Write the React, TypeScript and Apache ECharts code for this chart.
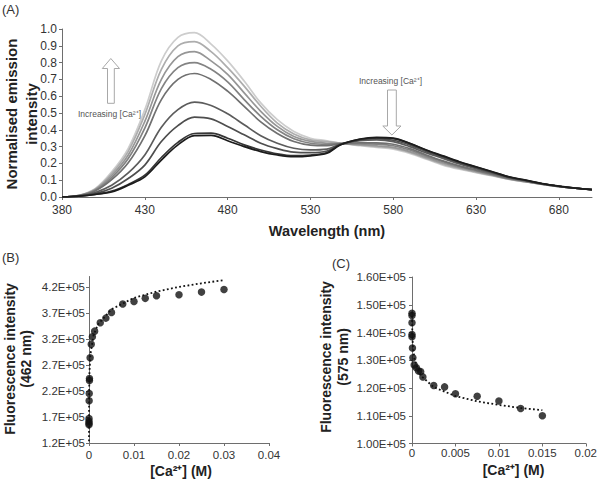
import React, { useEffect, useRef } from "react";
import * as echarts from "echarts";

// ---------- Panel A : emission spectra ----------
const wavelengths = [380, 390, 400, 410, 420, 430, 440, 450, 460, 470, 480, 490, 500, 510, 520, 530, 540, 548, 560, 570, 580, 590, 600, 610, 620, 630, 640, 650, 660, 670, 680, 690, 700];
const spec1 = [0, 0.005, 0.015, 0.03, 0.07, 0.12, 0.22, 0.31, 0.365, 0.367, 0.335, 0.3, 0.27, 0.25, 0.24, 0.245, 0.26, 0.31, 0.345, 0.355, 0.35, 0.32, 0.28, 0.245, 0.21, 0.18, 0.15, 0.12, 0.1, 0.08, 0.065, 0.053, 0.044];
const spec2 = [0, 0.005, 0.016, 0.035, 0.075, 0.13, 0.235, 0.325, 0.378, 0.38, 0.35, 0.31, 0.28, 0.257, 0.246, 0.25, 0.265, 0.312, 0.343, 0.352, 0.347, 0.318, 0.278, 0.243, 0.208, 0.178, 0.148, 0.119, 0.099, 0.079, 0.064, 0.052, 0.044];
const spec3 = [0, 0.006, 0.02, 0.052, 0.11, 0.19, 0.33, 0.425, 0.475, 0.465, 0.42, 0.37, 0.32, 0.288, 0.267, 0.264, 0.274, 0.312, 0.34, 0.348, 0.338, 0.31, 0.27, 0.237, 0.203, 0.174, 0.146, 0.117, 0.098, 0.079, 0.064, 0.053, 0.044];
const spec4 = [0, 0.006, 0.027, 0.07, 0.143, 0.25, 0.415, 0.52, 0.565, 0.545, 0.495, 0.43, 0.365, 0.32, 0.29, 0.28, 0.285, 0.315, 0.335, 0.34, 0.33, 0.3, 0.262, 0.23, 0.197, 0.169, 0.142, 0.115, 0.097, 0.078, 0.064, 0.053, 0.044];
const spec5 = [0, 0.007, 0.036, 0.103, 0.204, 0.364, 0.58, 0.7, 0.735, 0.7, 0.63, 0.54, 0.447, 0.378, 0.33, 0.309, 0.306, 0.318, 0.323, 0.322, 0.314, 0.288, 0.25, 0.215, 0.185, 0.16, 0.136, 0.11, 0.094, 0.077, 0.063, 0.052, 0.043];
const spec6 = [0, 0.008, 0.04, 0.116, 0.229, 0.41, 0.645, 0.77, 0.8, 0.76, 0.685, 0.58, 0.48, 0.4, 0.347, 0.32, 0.314, 0.318, 0.318, 0.315, 0.305, 0.28, 0.243, 0.21, 0.18, 0.157, 0.133, 0.109, 0.093, 0.077, 0.063, 0.052, 0.043];
const spec7 = [0, 0.009, 0.044, 0.128, 0.25, 0.45, 0.7, 0.835, 0.865, 0.81, 0.73, 0.62, 0.51, 0.42, 0.36, 0.331, 0.32, 0.318, 0.312, 0.305, 0.295, 0.27, 0.236, 0.202, 0.174, 0.152, 0.13, 0.107, 0.091, 0.076, 0.062, 0.052, 0.043];
const spec8 = [0, 0.009, 0.047, 0.14, 0.272, 0.49, 0.76, 0.9, 0.925, 0.865, 0.77, 0.66, 0.54, 0.44, 0.375, 0.34, 0.33, 0.32, 0.308, 0.3, 0.29, 0.265, 0.23, 0.196, 0.17, 0.148, 0.128, 0.106, 0.09, 0.075, 0.062, 0.052, 0.043];
const spec9 = [0, 0.01, 0.05, 0.15, 0.29, 0.52, 0.81, 0.95, 0.978, 0.91, 0.81, 0.69, 0.56, 0.46, 0.39, 0.35, 0.335, 0.32, 0.305, 0.295, 0.285, 0.26, 0.225, 0.19, 0.165, 0.145, 0.125, 0.105, 0.09, 0.075, 0.062, 0.052, 0.043];
// drawn from lightest (highest [Ca2+]) to darkest
const spectra = [spec9, spec8, spec7, spec6, spec5, spec4, spec3, spec2, spec1];
const spectrumColors = ["#cdcdcd", "#adadad", "#969696", "#838383", "#707070", "#5c5c5c", "#4e4e4e", "#363636", "#1c1c1c"];
const xTicksA = [380, 430, 480, 530, 580, 630, 680];
const yTicksA = [0, 0.1, 0.2, 0.3, 0.4, 0.5, 0.6, 0.7, 0.8, 0.9, 1.0];

// ---------- Panel B : 462 nm ----------
const concB = [0, 0, 0, 0, 0.00003, 0.00005, 0.0001, 0.0001, 0.00025, 0.0005, 0.00075, 0.00125, 0.0025, 0.00375, 0.005, 0.0075, 0.01, 0.0125, 0.015, 0.02, 0.025, 0.03];
const intensityB = [155000, 158000, 162000, 167000, 201000, 215000, 240000, 244000, 284000, 310000, 324000, 335000, 351000, 360000, 371000, 387000, 392000, 398000, 403000, 405000, 410000, 415000];
const trendConcB = [0.0000015, 0.000005, 0.00001, 0.00003, 0.0001, 0.0003, 0.001, 0.002, 0.005, 0.01, 0.015, 0.02, 0.025, 0.03];
const trendB = [123500, 161000, 183000, 217000, 255000, 289000, 327000, 348000, 377000, 399000, 411000, 420000, 427000, 433000];
const xTicksB = [0, 0.01, 0.02, 0.03, 0.04];
const yTicksB = [120000, 170000, 220000, 270000, 320000, 370000, 420000];

// ---------- Panel C : 575 nm ----------
const concC = [0, 0, 0, 0, 0, 0.00005, 0.0001, 0.00025, 0.0005, 0.00075, 0.001, 0.00125, 0.0025, 0.00375, 0.005, 0.0075, 0.01, 0.0125, 0.015];
const intensityC = [146900, 146100, 143500, 139300, 138500, 134400, 130900, 128300, 127300, 126100, 125900, 124000, 120900, 120400, 117900, 117000, 115300, 112600, 110000];
const trendConcC = [0.000007, 0.00002, 0.00005, 0.0001, 0.0003, 0.001, 0.0025, 0.005, 0.0075, 0.01, 0.0125, 0.015];
const trendC = [147500, 142700, 138500, 135200, 130100, 124500, 120300, 117100, 115200, 113900, 112800, 112000];
const xTicksC = [0, 0.005, 0.01, 0.015, 0.02];
const yTicksC = [100000, 110000, 120000, 130000, 140000, 150000, 160000];

const FONT = "'Liberation Sans', Arial, Helvetica, sans-serif";
const AXIS_COLOR = "#6e6e6e";
const LABEL_COLOR = "#333";

function valueAxis(gridIndex: number, min: number, max: number, ticks: number[], fmt: (v: number) => string, fontSize: number, margin: number) {
  return {
    type: "value",
    gridIndex,
    min,
    max,
    axisLine: { show: true, onZero: false, lineStyle: { color: AXIS_COLOR, width: 1 } },
    axisTick: { show: true, length: 3, inside: false, lineStyle: { color: AXIS_COLOR }, customValues: ticks },
    axisLabel: { customValues: ticks, formatter: fmt, color: LABEL_COLOR, fontSize, fontFamily: FONT, margin },
    splitLine: { show: false },
  };
}

function txt(x: number, y: number, text: string, fontSize: number, fontWeight = "normal", align = "left", rotation = 0, lineHeight?: number, fill = "#222") {
  return {
    type: "text",
    x,
    y,
    rotation,
    silent: true,
    style: { text, fill, fontSize, fontWeight, fontFamily: FONT, align, verticalAlign: "middle", lineHeight },
  };
}

export default function App() {
  const ref = useRef<HTMLDivElement>(null);

  useEffect(() => {
    if (!ref.current) return;
    const chart = echarts.init(ref.current, undefined, { renderer: "svg" });

    const spectraSeries = spectra.map((s, k) => ({
      type: "line",
      xAxisIndex: 0,
      yAxisIndex: 0,
      data: wavelengths.map((w, i) => [w, s[i]]),
      showSymbol: false,
      smooth: 0.35,
      silent: true,
      lineStyle: { color: spectrumColors[k], width: 1.7 },
    }));

    const dotted = { color: "#111", width: 1.8, type: [1.8, 2.4] };

    const option = {
      animation: false,
      backgroundColor: "#fff",
      grid: [
        { left: 62, top: 29, width: 530, height: 168 },
        { left: 89, top: 276.5, width: 180, height: 166.5 },
        { left: 412, top: 277, width: 175, height: 166.5 },
      ],
      xAxis: [
        valueAxis(0, 380, 700, xTicksA, (v) => String(v), 12, 7),
        valueAxis(1, 0, 0.04, xTicksB, (v) => String(v), 11.5, 6),
        valueAxis(2, 0, 0.02, xTicksC, (v) => String(v), 11.5, 3),
      ],
      yAxis: [
        valueAxis(0, 0, 1, yTicksA, (v) => v.toFixed(1), 12, 5),
        valueAxis(1, 120000, 440000, yTicksB, (v) => (v / 1e5).toFixed(1) + "E+05", 11.5, 4),
        valueAxis(2, 100000, 160000, yTicksC, (v) => (v / 1e5).toFixed(2) + "E+05", 11.5, 6),
      ],
      series: [
        ...spectraSeries,
        {
          type: "line",
          xAxisIndex: 1,
          yAxisIndex: 1,
          data: trendConcB.map((c, i) => [c, trendB[i]]),
          showSymbol: false,
          silent: true,
          lineStyle: dotted,
          z: 2,
        },
        {
          type: "scatter",
          xAxisIndex: 1,
          yAxisIndex: 1,
          data: concB.map((c, i) => [c, intensityB[i]]),
          symbolSize: 7.5,
          itemStyle: { color: "#111" },
          z: 3,
        },
        {
          type: "line",
          xAxisIndex: 2,
          yAxisIndex: 2,
          data: trendConcC.map((c, i) => [c, trendC[i]]),
          showSymbol: false,
          silent: true,
          lineStyle: dotted,
          z: 2,
        },
        {
          type: "scatter",
          xAxisIndex: 2,
          yAxisIndex: 2,
          data: concC.map((c, i) => [c, intensityC[i]]),
          symbolSize: 7.5,
          itemStyle: { color: "#111" },
          z: 3,
        },
      ],
      graphic: [
        // panel letters
        txt(2, 9, "(A)", 13, "normal", "left", 0, undefined, "#333"),
        txt(2, 257, "(B)", 13, "normal", "left", 0, undefined, "#333"),
        txt(332, 263, "(C)", 13, "normal", "left", 0, undefined, "#333"),
        // axis titles
        txt(21, 114, "Normalised emission\nintensity", 15, "bold", "center", Math.PI / 2, 20),
        txt(327, 231, "Wavelength (nm)", 14.5, "bold", "center"),
        txt(17.5, 359, "Fluorescence intensity\n(462 nm)", 14, "bold", "center", Math.PI / 2, 16),
        txt(181, 471, "[Ca²⁺] (M)", 14, "bold", "center"),
        txt(334.5, 357, "Fluorescence intensity\n(575 nm)", 14, "bold", "center", Math.PI / 2, 17),
        txt(513.5, 470, "[Ca²⁺] (M)", 14, "bold", "center"),
        // annotations
        txt(78, 114, "Increasing [Ca²⁺]", 8.5, "normal", "left", 0, undefined, "#555"),
        txt(359, 81, "Increasing [Ca²⁺]", 8.5, "normal", "left", 0, undefined, "#555"),
        {
          type: "polygon",
          silent: true,
          shape: {
            points: [
              [110.8, 58.5], [119.5, 68.5], [114.3, 68.5], [114.3, 103.3], [107.5, 103.3], [107.5, 68.5], [102.3, 68.5],
            ],
          },
          style: { fill: "#fff", stroke: "#a8a8a8", lineWidth: 1 },
        },
        {
          type: "polygon",
          silent: true,
          shape: {
            points: [
              [387.5, 90], [396.3, 90], [396.3, 126], [401, 126], [391.9, 135], [382.8, 126], [387.5, 126],
            ],
          },
          style: { fill: "#fff", stroke: "#a8a8a8", lineWidth: 1 },
        },
      ],
    };

    chart.setOption(option as any);
    return () => chart.dispose();
  }, []);

  return <div ref={ref} style={{ position: "absolute", left: 0, top: 0, width: 600, height: 490 }} />;
}
